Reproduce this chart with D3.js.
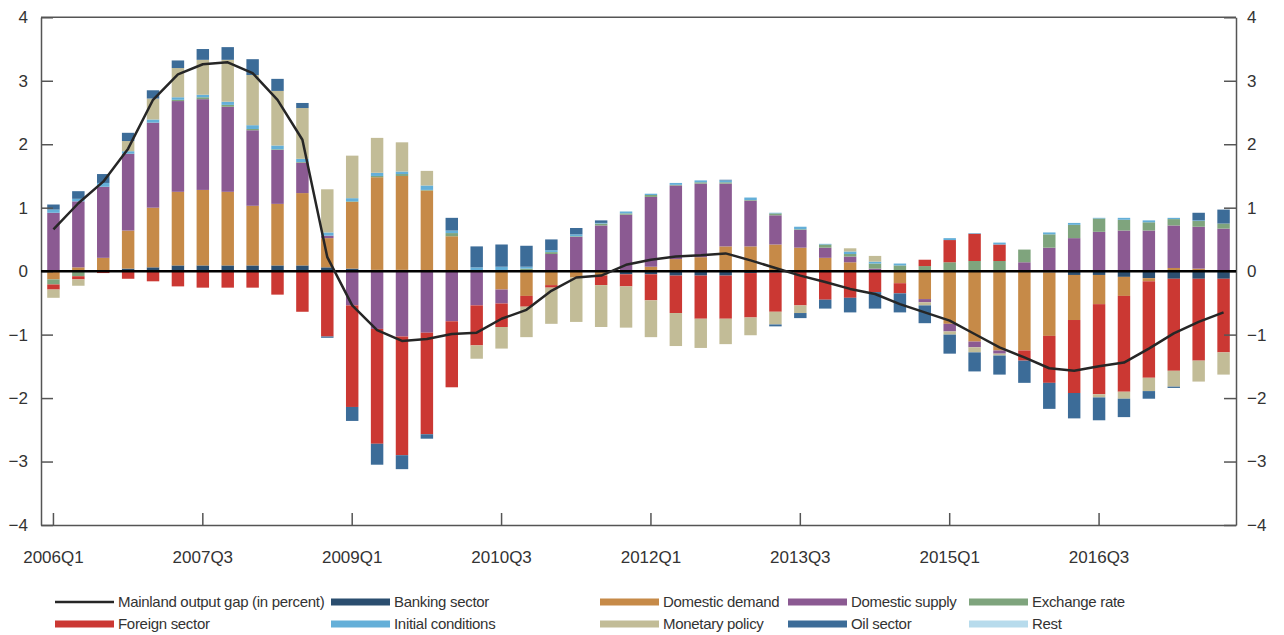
<html>
<head>
<meta charset="utf-8">
<script src="https://d3js.org/d3.v7.min.js"></script>
<style>
    body { margin: 0; background: #fff; }
    svg text { font-family: "Liberation Sans", Arial, sans-serif; fill: #333; }
    .axis text { font-size: 17px; }
    .axis path, .axis line { stroke: #555; stroke-width: 1.5; }
    .legend text { font-size: 15px; letter-spacing: -0.3px; }
</style>
</head>
<body>
<div id="chart"></div>
<script>
    // quarters 2006Q1 .. 2017Q4
    var quarters = [];
    d3.range(2006, 2018).forEach(function(yr) {
        [1, 2, 3, 4].forEach(function(q) { quarters.push(yr + "Q" + q); });
    });
    var tickLabels = ["2006Q1", "2007Q3", "2009Q1", "2010Q3", "2012Q1", "2013Q3", "2015Q1", "2016Q3"];

    var banking = [0, 0, 0, 0.04, 0.06, 0.09, 0.09, 0.09, 0.09, 0.09, 0.09, 0.06,
        0.04, 0.02, 0.02, 0.01, 0, 0, 0, 0, 0, 0, 0, -0.05,
        -0.05, -0.07, -0.07, -0.07, -0.03, -0.02, -0.01, 0, 0, 0, 0, 0,
        0, 0, 0, 0, -0.02, -0.06, -0.06, -0.09, -0.11, -0.12, -0.12, -0.12];
    var domDemand = [-0.13, 0.06, 0.21, 0.6, 0.94, 1.16, 1.19, 1.16, 0.94, 0.97, 1.14, 0.46,
        1.05, 1.46, 1.48, 1.26, 0.55, 0, -0.29, -0.39, -0.22, -0.1, -0.07, 0,
        0.07, 0.19, 0.22, 0.39, 0.39, 0.42, 0.37, 0.21, 0.14, 0, -0.19, -0.44,
        -0.83, -1.11, -1.25, -1.25, -1.0, -0.71, -0.46, -0.3, -0.05, 0.05, 0.04, 0];
    var domSupply = [0.92, 1.04, 1.12, 1.21, 1.34, 1.43, 1.43, 1.34, 1.19, 0.85, 0.48, 0.04,
        -0.54, -0.91, -1.03, -0.97, -0.79, -0.54, -0.22, 0, 0.27, 0.54, 0.72, 0.89,
        1.1, 1.16, 1.16, 0.99, 0.72, 0.46, 0.28, 0.16, 0.09, 0.04, 0, -0.05,
        -0.12, -0.09, -0.05, 0.14, 0.37, 0.52, 0.62, 0.64, 0.64, 0.67, 0.66, 0.67];
    var exchRate = [-0.08, -0.08, 0, 0, 0, 0.02, 0.03, 0.03, 0.02, 0.01, 0.01, 0,
        0.01, 0.02, 0.03, 0.01, 0.05, 0, 0.01, 0.04, 0.03, 0.01, 0.03, 0.02,
        0.03, 0.01, 0.02, 0.02, 0.01, 0.03, 0.01, 0.05, 0.04, 0.08, 0.09, 0.08,
        0.14, 0.16, 0.16, 0.2, 0.21, 0.21, 0.21, 0.17, 0.13, 0.1, 0.09, 0.08];
    var foreign = [-0.08, -0.05, -0.03, -0.12, -0.16, -0.24, -0.26, -0.26, -0.26, -0.37, -0.64, -1.03,
        -1.6, -1.81, -1.87, -1.6, -1.04, -0.63, -0.37, -0.17, -0.04, 0, -0.15, -0.19,
        -0.41, -0.59, -0.68, -0.68, -0.7, -0.62, -0.53, -0.45, -0.42, -0.33, -0.16, 0.1,
        0.35, 0.43, 0.26, -0.16, -0.74, -1.15, -1.42, -1.51, -1.52, -1.45, -1.29, -1.16];
    var initCond = [0.05, 0.04, 0.06, 0.04, 0.05, 0.04, 0.04, 0.05, 0.06, 0.06, 0.05, 0.05,
        0.05, 0.05, 0.04, 0.07, 0.04, 0.06, 0.06, 0.03, 0.03, 0.03, 0.01, 0.03,
        0.02, 0.03, 0.03, 0.03, 0.04, 0.01, 0.04, 0.01, 0.04, 0.03, 0.03, 0,
        0.03, 0.01, 0.03, 0, 0.03, 0.03, 0.01, 0.03, 0.03, 0.02, 0.01, 0];
    var monetary = [-0.13, -0.1, 0, 0.16, 0.33, 0.46, 0.55, 0.66, 0.79, 0.86, 0.8, 0.68,
        0.67, 0.55, 0.46, 0.23, 0, -0.21, -0.34, -0.48, -0.57, -0.7, -0.66, -0.65,
        -0.58, -0.52, -0.46, -0.4, -0.28, -0.2, -0.12, 0, 0.05, 0.09, 0, -0.05,
        -0.05, -0.08, -0.03, 0, 0, 0, -0.05, -0.11, -0.21, -0.25, -0.33, -0.35];
    var oil = [0.08, 0.12, 0.14, 0.13, 0.13, 0.12, 0.17, 0.2, 0.25, 0.19, 0.08, -0.02,
        -0.22, -0.33, -0.22, -0.07, 0.2, 0.33, 0.35, 0.33, 0.17, 0.1, 0.04, 0,
        0, 0, 0, 0.01, 0, -0.03, -0.08, -0.14, -0.23, -0.26, -0.3, -0.28,
        -0.3, -0.3, -0.3, -0.35, -0.41, -0.4, -0.36, -0.29, -0.12, -0.02, 0.12, 0.22];
    var rest = [0, 0, 0, 0, 0, 0, 0, 0, 0, 0, 0, 0,
        0, 0, 0, 0, 0, 0, 0, 0, 0, 0, 0, 0,
        0, 0, 0, 0, 0, 0, 0, 0, 0, 0, 0, 0,
        0, 0, 0, 0, 0, 0, 0, 0, 0, 0, 0, 0];
    var outputGap = [0.66, 1.07, 1.41, 1.93, 2.7, 3.1, 3.26, 3.29, 3.12, 2.7, 2.07, 0.22,
        -0.54, -0.93, -1.1, -1.07, -0.99, -0.97, -0.75, -0.61, -0.31, -0.1, -0.07, 0.1,
        0.18, 0.23, 0.25, 0.28, 0.17, 0.05, -0.07, -0.17, -0.28, -0.36, -0.52, -0.65,
        -0.78, -0.99, -1.2, -1.36, -1.53, -1.57, -1.5, -1.44, -1.22, -0.98, -0.8, -0.65];

    var seriesNames = ["Banking sector", "Domestic demand", "Domestic supply", "Exchange rate",
        "Foreign sector", "Initial conditions", "Monetary policy", "Oil sector", "Rest"];
    var seriesValues = [banking, domDemand, domSupply, exchRate, foreign, initCond, monetary, oil, rest];
    var colors = ["#2b4e6f", "#c68a48", "#8b5a92", "#7fa47d", "#cb3833",
        "#64afd8", "#c2bc97", "#3c6c98", "#b7dbec"];
    var lineName = "Mainland output gap (in percent)";

    var width = 1284, height = 635;
    var plotLeft = 41, plotRight = 1236, plotTop = 17.3, plotBottom = 525;

    var rows = quarters.map(function(q, i) {
        var r = { q: q };
        seriesNames.forEach(function(n, k) { r[n] = seriesValues[k][i]; });
        return r;
    });

    var x = d3.scaleBand().domain(quarters).range([plotLeft, plotRight]).paddingInner(0.5).paddingOuter(0.25);
    var y = d3.scaleLinear().domain([-4, 4]).range([plotBottom, plotTop]);
    var color = d3.scaleOrdinal(seriesNames, colors);

    var svg = d3.select("#chart").append("svg")
        .attr("width", width)
        .attr("height", height);

    var stack = d3.stack().keys(seriesNames).offset(d3.stackOffsetDiverging);
    var layers = stack(rows);

    svg.append("g").selectAll("g")
        .data(layers)
        .enter().append("g")
        .attr("fill", function(d) { return color(d.key); })
        .selectAll("rect")
        .data(function(d) { return d; })
        .enter().append("rect")
        .attr("x", function(d) { return x(d.data.q); })
        .attr("width", x.bandwidth())
        .attr("y", function(d) { return y(Math.max(d[0], d[1])); })
        .attr("height", function(d) { return Math.abs(y(d[0]) - y(d[1])); });

    // frame and axes
    svg.append("line")
        .attr("x1", plotLeft).attr("x2", plotRight)
        .attr("y1", plotTop).attr("y2", plotTop)
        .attr("stroke", "#555").attr("stroke-width", 1.5);

    var yTicks = d3.range(-4, 5);
    svg.append("g").attr("class", "axis")
        .attr("transform", "translate(" + plotLeft + ",0)")
        .call(d3.axisLeft(y).tickValues(yTicks).tickSize(-12).tickSizeOuter(0).tickPadding(13));
    svg.append("g").attr("class", "axis")
        .attr("transform", "translate(" + plotRight + ",0)")
        .call(d3.axisRight(y).tickValues(yTicks).tickSize(-12).tickSizeOuter(0).tickPadding(11));
    svg.append("g").attr("class", "axis")
        .attr("transform", "translate(0," + plotBottom + ")")
        .call(d3.axisBottom(x).tickValues(tickLabels).tickSize(-12).tickSizeOuter(0).tickPadding(26));

    // zero line
    svg.append("line")
        .attr("x1", plotLeft).attr("x2", plotRight)
        .attr("y1", y(0)).attr("y2", y(0))
        .attr("stroke", "#000").attr("stroke-width", 2.5);

    var line = d3.line()
        .x(function(d, i) { return x(quarters[i]) + x.bandwidth() / 2; })
        .y(function(d) { return y(d); });

    svg.append("path")
        .datum(outputGap)
        .attr("fill", "none")
        .attr("stroke", "#262626")
        .attr("stroke-width", 2.5)
        .attr("stroke-linejoin", "round")
        .attr("d", line);

    // legend
    var legendItems = [{ name: lineName, line: true }].concat(seriesNames.map(function(n) {
        return { name: n, line: false };
    }));
    var colX = [55, 331, 600, 788, 969];
    var rowY = [602, 624];

    var lg = svg.append("g").attr("class", "legend")
        .selectAll("g")
        .data(legendItems)
        .enter().append("g")
        .attr("transform", function(d, i) {
            return "translate(" + colX[i % 5] + "," + rowY[Math.floor(i / 5)] + ")";
        });

    lg.append("rect")
        .attr("x", 0)
        .attr("width", 59)
        .attr("y", function(d) { return d.line ? -1.25 : -3.5; })
        .attr("height", function(d) { return d.line ? 2.5 : 7; })
        .attr("fill", function(d) { return d.line ? "#262626" : color(d.name); });

    lg.append("text")
        .attr("x", 63)
        .attr("dy", "0.35em")
        .text(function(d) { return d.name; });
</script>
</body>
</html>
